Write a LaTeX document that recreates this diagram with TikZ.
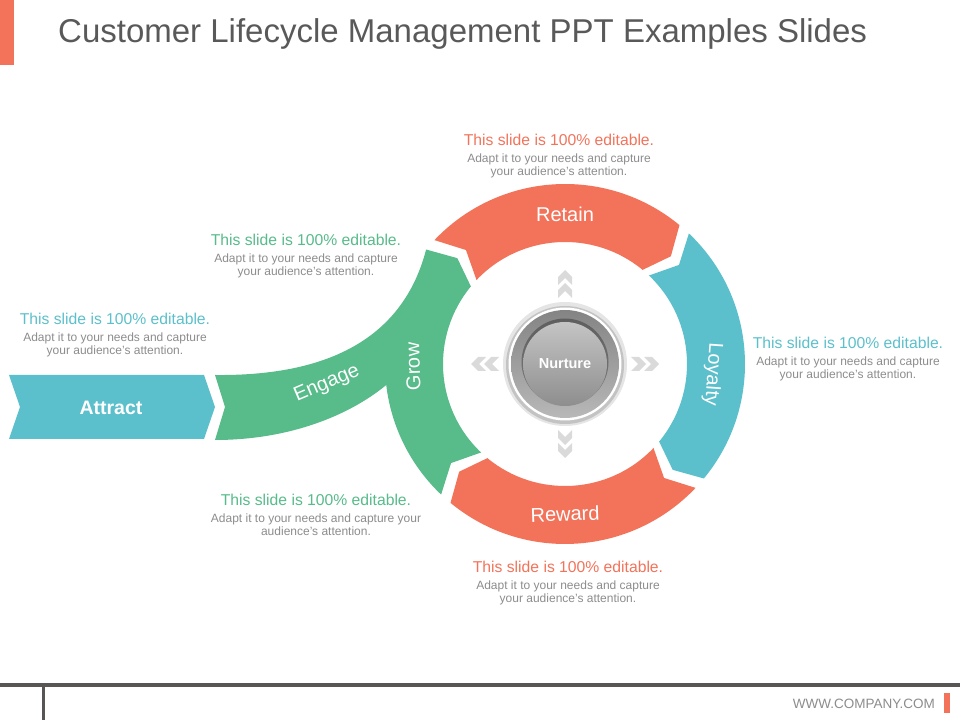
\documentclass[tikz,border=0pt]{standalone}
\usepackage{fontspec}
\setmainfont{Liberation Sans}
\usetikzlibrary{%
  calc,
  positioning,
}
\definecolor{clmOrange}{HTML}{F2735A}
\definecolor{clmGreen}{HTML}{57BB8A}
\definecolor{clmTeal}{HTML}{5BC0CB}
\definecolor{clmTitle}{HTML}{595959}
\definecolor{clmText}{HTML}{8C8C8C}
\definecolor{clmChev}{HTML}{DADADA}
\definecolor{clmFoot}{HTML}{5A5555}
\definecolor{clmRingTop}{HTML}{848484}
\definecolor{clmRingBot}{HTML}{B8B8B8}
\definecolor{clmDiscTop}{HTML}{C4C4C4}
\definecolor{clmDiscBot}{HTML}{8E8E8E}

% ring radii: outer, middle, inner
\def\Ro{180}
\def\Rm{151}
\def\Ri{122}

% one ring arrow: tail angle, head angle, colour
\newcommand{\ringseg}[3]{%
  \fill[#3]
    ($(C)+(#1:\Ro)$) arc[start angle=#1, end angle=#2, radius=\Ro]
    -- ($(C)+(#2-5:\Rm)$)
    -- ($(C)+(#2:\Ri)$) arc[start angle=#2, end angle=#1, radius=\Ri]
    -- ($(C)+(#1-5.5:\Rm)$) -- cycle;
}

\begin{document}
\begin{tikzpicture}[
  x=1pt, y=1pt,
  seglabel/.style={text=white, inner sep=0,
    font=\fontsize{20}{22}\selectfont},
  head/.style={inner sep=0, anchor=base,
    font=\fontsize{15.7}{18}\selectfont},
  body/.style={inner sep=0, align=center, text=clmText,
    font=\fontsize{12}{13}\selectfont},
]
  \useasboundingbox (0,0) rectangle (960,720);
  \coordinate (C) at (565,356);
  % pixel units, y up

  % title
  \fill[clmOrange] (0,655) rectangle (14,720);
  \node[anchor=base west, text=clmTitle, inner sep=0,
    font=\fontsize{33}{38}\selectfont]
    (title) at (58,677)
    {Customer Lifecycle Management PPT Examples Slides};

  % attract
  \fill[clmTeal] (9,345) -- (204,345) -- (215,313)
    -- (204,281) -- (9,281) -- (20,313) -- cycle;

  % engage + grow
  \fill[clmGreen]
    (215,345) -- (225,313) -- (215,280)
    .. controls (290,280) and (350,305) .. ($(C)+(186.7:\Ro)$)
    arc[start angle=186.7, end angle=226.5, radius=\Ro]
    -- ($(C)+(221:\Rm)$)
    -- ($(C)+(226.5:\Ri)$)
    arc[start angle=226.5, end angle=140.5, radius=\Ri]
    -- ($(C)+(135.5:\Rm)$)
    -- ($(C)+(140.5:\Ro)$)
    .. controls (400,370) and (310,344) .. (215,345) -- cycle;

  \ringseg{136.5}{50.5}{clmOrange}
  \ringseg{46.5}{-39.5}{clmTeal}
  \ringseg{-43.5}{-129.5}{clmOrange}

  % chevrons
  \foreach \a in {0,90,180,270}{
    \begin{scope}[shift={(C)}, rotate=\a]
      \foreach \d in {75,88}
        \fill[clmChev] (\d-9,7) -- (\d-1,7) -- (\d+6,0)
          -- (\d-1,-7) -- (\d-9,-7) -- (\d-2,0) -- cycle;
    \end{scope}
  }

  % nurture button
  \fill[black, opacity=.10] (C) circle (62);
  \fill[black, opacity=.15] ($(C)+(0,-1)$) circle (59);
  \fill[white] (C) circle (56.5);
  \shade[top color=clmRingTop, bottom color=clmRingBot]
    (C) circle (54);
  \fill[black, opacity=.3] ($(C)+(0,2)$) circle (43.5);
  \shade[top color=clmDiscTop, bottom color=clmDiscBot]
    (C) circle (42);
  \node[text=white, font=\bfseries\fontsize{14.5}{16}\selectfont]
    (nurture) at (C) {Nurture};

  % ring labels
  \node[seglabel] (lRetain) at ($(C)+(90:150)$) {Retain};
  \node[seglabel, rotate=-94] (lLoyalty)
    at ($(C)+(-4:148)$) {Loyalty};
  \node[seglabel, rotate=2] (lReward)
    at ($(C)+(-90:150)$) {Reward};
  \node[seglabel, rotate=92] (lGrow)
    at ($(C)+(181:152)$) {Grow};
  \node[seglabel, rotate=23] (lEngage) at (327,336) {Engage};
  \node[seglabel, font=\bfseries\fontsize{19.5}{22}\selectfont]
    (lAttract) at (111,312) {Attract};

  % notes
  \node[head, text=clmOrange] (hRetain) at (559,574)
    {This slide is 100\% editable.};
  \node[body, below=7pt of hRetain] (bRetain)
    {Adapt it to your needs and capture\\your audience's attention.};

  \node[head, text=clmGreen] (hEngage) at (306,474)
    {This slide is 100\% editable.};
  \node[body, below=7pt of hEngage] (bEngage)
    {Adapt it to your needs and capture\\your audience's attention.};

  \node[head, text=clmTeal] (hAttract) at (115,395)
    {This slide is 100\% editable.};
  \node[body, below=7pt of hAttract] (bAttract)
    {Adapt it to your needs and capture\\your audience's attention.};

  \node[head, text=clmTeal] (hLoyalty) at (848,371)
    {This slide is 100\% editable.};
  \node[body, below=7pt of hLoyalty] (bLoyalty)
    {Adapt it to your needs and capture\\your audience's attention.};

  \node[head, text=clmGreen] (hGrow) at (316,214)
    {This slide is 100\% editable.};
  \node[body, below=7pt of hGrow] (bGrow)
    {Adapt it to your needs and capture your\\audience's attention.};

  \node[head, text=clmOrange] (hReward) at (568,147)
    {This slide is 100\% editable.};
  \node[body, below=7pt of hReward] (bReward)
    {Adapt it to your needs and capture\\your audience's attention.};

  % footer
  \fill[clmFoot] (0,33) rectangle (960,37);
  \fill[clmFoot] (42,0) rectangle (45,35);
  \node[anchor=base east, text=clmText, inner sep=0,
    font=\fontsize{13.5}{15}\selectfont]
    (site) at (935,12) {WWW.COMPANY.COM};
  \fill[clmOrange] (944,7) rectangle (950,27);
\end{tikzpicture}
\end{document}
